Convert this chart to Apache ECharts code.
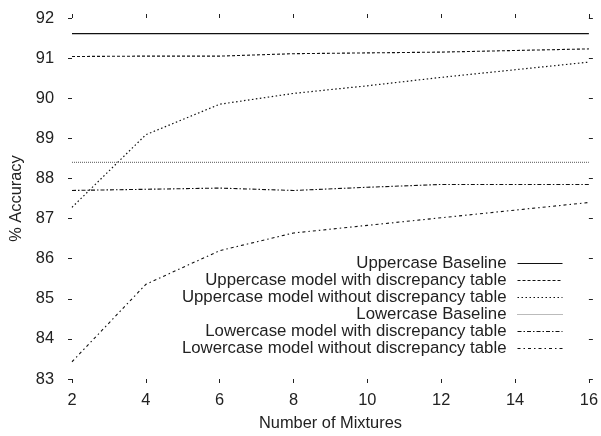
<!DOCTYPE html>
<html>
<head>
<meta charset="utf-8">
<script src="https://cdn.jsdelivr.net/npm/echarts@6/dist/echarts.min.js"></script>
<style>html,body{margin:0;padding:0;background:#fff}#c{width:601px;height:436px}</style>
</head>
<body>
<div id="c"></div>
<script>
const mixtures = [2, 4, 6, 8, 10, 12, 14, 16];
const upperBaseline = [91.61, 91.61, 91.61, 91.61, 91.61, 91.61, 91.61, 91.61];
const upperWithTable = [91.04, 91.05, 91.05, 91.11, 91.13, 91.15, 91.19, 91.23];
const upperWithoutTable = [87.28, 89.09, 89.85, 90.12, 90.31, 90.52, 90.71, 90.90];
const lowerBaseline = [88.40, 88.40, 88.40, 88.40, 88.40, 88.40, 88.40, 88.40];
const lowerWithTable = [87.70, 87.73, 87.76, 87.70, 87.78, 87.85, 87.85, 87.85];
const lowerWithoutTable = [83.43, 85.36, 86.20, 86.64, 86.83, 87.02, 87.21, 87.40];
const seriesNames = [
  'Uppercase Baseline',
  'Uppercase model with discrepancy table',
  'Uppercase model without discrepancy table',
  'Lowercase Baseline',
  'Lowercase model with discrepancy table',
  'Lowercase model without discrepancy table'
];
const xTicks = { min: 2, max: 16, interval: 2 };
const yTicks = { min: 83, max: 92, interval: 1 };

const allValues = [upperBaseline, upperWithTable, upperWithoutTable, lowerBaseline, lowerWithTable, lowerWithoutTable];
const styles = [
  { type: 'solid', color: '#111', width: 1.2 },
  { type: [3, 2], color: '#111', width: 1.1 },
  { type: [1.5, 2.5], color: '#111', width: 1.2 },
  { type: [1, 1], color: '#777', width: 1.1 },
  { type: [4, 2, 1.5, 2], color: '#111', width: 1.1 },
  { type: [3, 3, 1.5, 3], color: '#111', width: 1.1 }
];

const font = 'Liberation Sans, Arial, Helvetica, sans-serif';
const tickStyle = { show: true, inside: false, length: 4, lineStyle: { color: '#222', width: 1 } };

const chart = echarts.init(document.getElementById('c'), null, { renderer: 'canvas' });
chart.setOption({
  animation: false,
  backgroundColor: '#fff',
  textStyle: { fontFamily: font },
  grid: { left: 72, right: 9, top: 18, bottom: 53, containLabel: false },
  legend: {
    orient: 'vertical',
    align: 'right',
    right: 38,
    top: 255,
    padding: 0,
    itemWidth: 45,
    itemHeight: 10,
    itemGap: 0,
    data: seriesNames,
    itemStyle: { opacity: 0 },
    lineStyle: { width: 1 },
    textStyle: { fontFamily: font, fontSize: 16.8, color: '#222', lineHeight: 16.8, padding: [0, 6, 0, 0] }
  },
  xAxis: [
    {
      type: 'value', position: 'bottom', min: xTicks.min, max: xTicks.max, interval: xTicks.interval,
      name: 'Number of Mixtures', nameLocation: 'middle', nameGap: 36,
      nameTextStyle: { fontFamily: font, fontSize: 16.4, color: '#222' },
      axisLine: { show: false }, axisTick: tickStyle, splitLine: { show: false },
      axisLabel: { fontFamily: font, fontSize: 16.4, color: '#222', margin: 13 }
    },
    {
      type: 'value', position: 'top', min: xTicks.min, max: xTicks.max, interval: xTicks.interval,
      axisLine: { show: false }, axisTick: tickStyle, splitLine: { show: false },
      axisLabel: { show: false }
    }
  ],
  yAxis: [
    {
      type: 'value', position: 'left', min: yTicks.min, max: yTicks.max, interval: yTicks.interval,
      name: '% Accuracy', nameLocation: 'middle', nameGap: 46,
      nameTextStyle: { fontFamily: font, fontSize: 16.4, color: '#222' },
      axisLine: { show: false }, axisTick: tickStyle, splitLine: { show: false },
      axisLabel: { fontFamily: font, fontSize: 16.4, color: '#222', margin: 18 }
    },
    {
      type: 'value', position: 'right', min: yTicks.min, max: yTicks.max, interval: yTicks.interval,
      axisLine: { show: false }, axisTick: tickStyle, splitLine: { show: false },
      axisLabel: { show: false }
    }
  ],
  series: seriesNames.map((name, i) => ({
    name: name,
    type: 'line',
    xAxisIndex: 0,
    yAxisIndex: 0,
    symbol: 'none',
    data: mixtures.map((m, j) => [m, allValues[i][j]]),
    lineStyle: styles[i],
    itemStyle: { color: styles[i].color }
  }))
});
</script>
</body>
</html>
